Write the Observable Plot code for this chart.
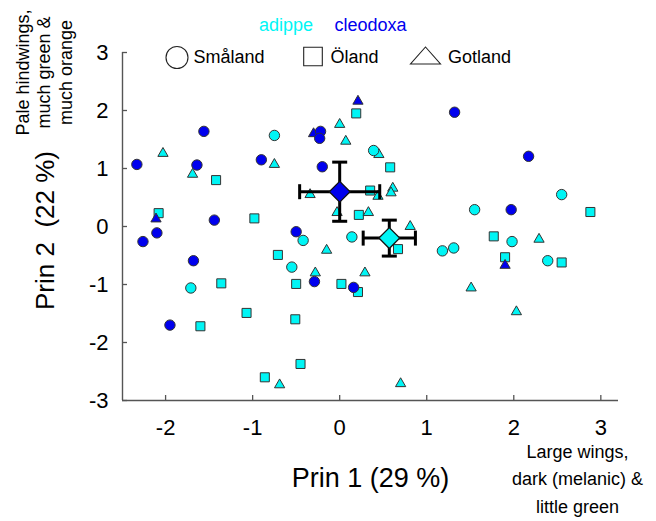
<!DOCTYPE html>
<html><head><meta charset="utf-8">
<script src="https://cdn.jsdelivr.net/npm/d3@7"></script>
<script src="https://cdn.jsdelivr.net/npm/@observablehq/plot@0.6"></script>
<style>html,body{margin:0;padding:0;background:#fff;}</style>
</head><body><div id="chart"></div>
<script>
// ---- data (Prin 1, Prin 2) ----
const adippeSmaland = [[-0.75,1.57],[-1.71,-1.06],[-0.55,-0.70],[-0.42,-0.24],[0.14,-0.18],[0.39,1.31],[1.18,-0.42],[1.31,-0.37],[1.55,0.29],[2.55,0.55],[1.98,-0.26],[2.39,-0.59]];
const adippeOland = [[-2.08,0.23],[-1.42,0.80],[-0.98,0.14],[-1.36,-0.98],[-1.60,-1.72],[-1.07,-1.49],[-0.71,-0.49],[-0.86,-2.60],[-0.50,-0.99],[0.02,-0.99],[0.21,-1.13],[-0.51,-1.60],[-0.45,-2.37],[0.67,-0.39],[0.19,1.95],[0.58,1.02],[0.35,0.62],[0.22,0.20],[2.88,0.25],[1.77,-0.17],[1.90,-0.53],[2.55,-0.62]];
const adippeGotland = [[-2.03,1.26],[-1.69,0.90],[-0.75,1.07],[-0.69,-2.73],[-0.15,-0.41],[-0.28,-0.80],[0.29,-0.80],[0.70,-2.71],[0.81,0.00],[0.00,1.76],[0.07,1.47],[0.45,1.24],[-0.34,0.55],[0.44,0.52],[0.61,0.66],[0.59,0.58],[-0.03,0.24],[0.33,0.24],[2.29,-0.22],[1.51,-1.06],[2.03,-1.47]];
const cleodoxaSmaland = [[-2.33,1.07],[-1.56,1.64],[-1.64,1.06],[-0.90,1.15],[-1.44,0.11],[-2.10,-0.11],[-2.26,-0.26],[-1.68,-0.59],[-1.95,-1.70],[-0.50,-0.09],[-0.29,-0.95],[0.16,-1.05],[-0.22,1.64],[-0.23,1.52],[-0.20,1.03],[1.32,1.97],[2.17,1.21],[1.97,0.29]];
const cleodoxaOland = [];
const cleodoxaGotland = [[-2.11,0.13],[0.21,2.16],[-0.30,1.60],[1.90,-0.67]];

const speciesNames = ["adippe", "cleodoxa"];
const regionNames = ["Småland", "Öland", "Gotland"];
const meanPrin1 = [0.57, 0.00];
const meanPrin2 = [-0.20, 0.60];
const errPrin1 = [0.30, 0.46];
const errPrin2 = [0.31, 0.51];

const xTicks = [-2, -1, 0, 1, 2, 3];
const yTicks = [-3, -2, -1, 0, 1, 2, 3];
const xTitle = "Prin 1 (29 %)";
const yTitle = "Prin 2\u00a0 (22 %)";
const topNote = "Pale hindwings,\nmuch green &\nmuch orange";
const bottomNote = "Large wings,\ndark (melanic) &\nlittle green";

// ---- build tables ----
const rows = (arr, species, region) => arr.map(([a, b]) => ({prin1: a, prin2: b, species, region}));
const means = speciesNames.map((s, i) => ({species: s, x: meanPrin1[i], y: meanPrin2[i], ex: errPrin1[i], ey: errPrin2[i]}));

const CYAN = "#00f5f5", BLUE = "#0000ee", AXIS = "#555";
const W = 656, H = 521, mT = 52, mB = 121, mL = 122, mR = 38;
const frameW = W - mL - mR, frameH = H - mT - mB;
const xDomain = [-2.495, 3.203], yDomain = [-3, 3];

const hCap = {draw(ctx) { ctx.moveTo(-7.5, 0); ctx.lineTo(7.5, 0); }};
const vCap = {draw(ctx) { ctx.moveTo(0, -7.5); ctx.lineTo(0, 7.5); }};
const wideTri = {draw(ctx) { ctx.moveTo(0, -8.5); ctx.lineTo(15, 8.5); ctx.lineTo(-15, 8.5); ctx.closePath(); }};

const pts = (data, symbol, r) => Plot.dot(data, {x: "prin1", y: "prin2", symbol, r, fill: "species", stroke: "#333", strokeWidth: 1});
const label = (t, o) => Plot.text([t], {text: d => d, textAnchor: "middle", lineAnchor: "middle", ...o});

const legendSym = [{symbol: "circle", r: 11, dx: 54.5, dy: 5}, {symbol: "square", r: 10.5, dx: 190.5, dy: 4}, {symbol: wideTri, r: 5, dx: 303, dy: 3}];
const legendTextDx = [71, 208, 325.5];
const speciesDx = [163.5, 248];

const marks = [
  Plot.ruleX([xDomain[0]], {stroke: AXIS, strokeWidth: 1.4}),
  Plot.ruleY([yDomain[0]], {stroke: AXIS, strokeWidth: 1.4}),
  Plot.tickX(xTicks, {x: d => d, stroke: AXIS, strokeWidth: 1.3, insetTop: frameH - 5}),
  Plot.tickY(yTicks, {y: d => d, stroke: AXIS, strokeWidth: 1.3, insetRight: frameW - 5}),
  Plot.axisX({ticks: xTicks, tickSize: 0, tickPadding: 19, tickFormat: d => String(d), label: null, fontSize: 22}),
  Plot.axisY({ticks: yTicks, tickSize: 0, tickPadding: 14, tickFormat: d => String(d), label: null, fontSize: 22}),
  pts(rows(adippeOland, "adippe", "Öland").concat(rows(cleodoxaOland, "cleodoxa", "Öland")), "square", 5.1),
  pts(rows(adippeGotland, "adippe", "Gotland"), "triangle", 3.8),
  pts(rows(cleodoxaGotland, "cleodoxa", "Gotland"), "triangle", 3.8),
  pts(rows(cleodoxaSmaland, "cleodoxa", "Småland"), "circle", 5.2),
  pts(rows(adippeSmaland, "adippe", "Småland"), "circle", 5.2),
  Plot.link(means, {x1: d => d.x - d.ex, x2: d => d.x + d.ex, y1: "y", y2: "y", stroke: "black", strokeWidth: 3}),
  Plot.link(means, {x1: "x", x2: "x", y1: d => d.y - d.ey, y2: d => d.y + d.ey, stroke: "black", strokeWidth: 3}),
  Plot.dot(means.flatMap(d => [{x: d.x - d.ex, y: d.y}, {x: d.x + d.ex, y: d.y}]), {x: "x", y: "y", symbol: vCap, fill: "none", stroke: "black", strokeWidth: 3}),
  Plot.dot(means.flatMap(d => [{x: d.x, y: d.y - d.ey}, {x: d.x, y: d.y + d.ey}]), {x: "x", y: "y", symbol: hCap, fill: "none", stroke: "black", strokeWidth: 3}),
  Plot.dot(means, {x: "x", y: "y", symbol: "square", rotate: 45, r: 8.3, fill: "species", stroke: "#111", strokeWidth: 1.3}),
  // titles & notes
  label(xTitle, {frameAnchor: "bottom", dy: 78, fontSize: 27}),
  label(yTitle, {frameAnchor: "left", dx: -77, dy: 4, rotate: -90, fontSize: 26}),
  label(topNote, {frameAnchor: "top-left", dx: -79, dy: 20, rotate: -90, fontSize: 18, lineHeight: 1.2}),
  label(bottomNote, {frameAnchor: "bottom-right", dx: -41, dy: 76, fontSize: 18, lineHeight: 1.55}),
  // legend
  ...speciesNames.map((s, i) => label(s, {frameAnchor: "top-left", dx: speciesDx[i], dy: -27, fontSize: 18, fill: i === 0 ? CYAN : BLUE})),
  ...regionNames.map((n, i) => Plot.dot([n], {frameAnchor: "top-left", dx: legendSym[i].dx, dy: legendSym[i].dy, symbol: legendSym[i].symbol, r: legendSym[i].r, fill: "white", stroke: "#222", strokeWidth: 1.1})),
  ...regionNames.map((n, i) => label(n, {frameAnchor: "top-left", dx: legendTextDx[i], dy: 5, textAnchor: "start", fontSize: 18}))
];

const chart = Plot.plot({
  width: W, height: H,
  marginTop: mT, marginBottom: mB, marginLeft: mL, marginRight: mR,
  x: {domain: xDomain},
  y: {domain: yDomain},
  color: {domain: speciesNames, range: [CYAN, BLUE]},
  style: {fontFamily: "'Liberation Sans', Arial, sans-serif", fontSize: "22px", background: "white", color: "black", overflow: "visible"},
  marks
});
document.getElementById("chart").appendChild(chart);
</script>
</body></html>
